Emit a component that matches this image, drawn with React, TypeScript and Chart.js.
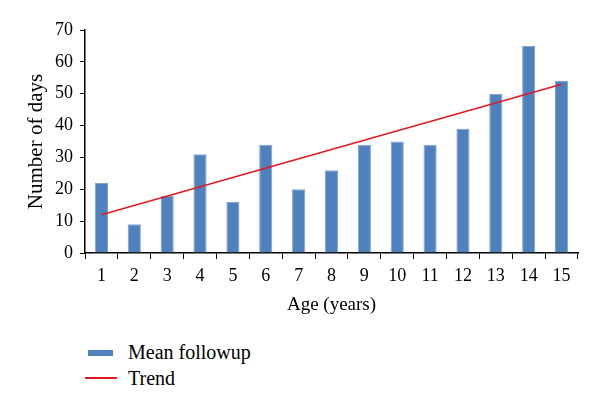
import React, { useEffect, useRef } from "react";
import { Chart, registerables } from "chart.js";

Chart.register(...registerables);

const ages = ["1", "2", "3", "4", "5", "6", "7", "8", "9", "10", "11", "12", "13", "14", "15"];
const meanFollowup = [22, 9, 18, 31, 16, 34, 20, 26, 34, 35, 34, 39, 50, 65, 54];
const trend = [12, null, null, null, null, null, null, null, null, null, null, null, null, null, 53];
const yTicks = [0, 10, 20, 30, 40, 50, 60, 70];

const FONT = "'Liberation Serif', 'Times New Roman', serif";
const BAR = "#4F81BD";
const RED = "#E0191E";

export default function App() {
  const ref = useRef<HTMLCanvasElement | null>(null);
  useEffect(() => {
    if (!ref.current) return;
    const chart = new Chart(ref.current, {
      type: "bar",
      data: {
        labels: ages,
        datasets: [
          {
            type: "line",
            label: "Trend",
            data: trend as any,
            borderColor: RED,
            borderWidth: 1.5,
            pointRadius: 0,
            spanGaps: true,
            fill: false,
            order: 0,
          } as any,
          {
            type: "bar",
            label: "Mean followup",
            data: meanFollowup,
            backgroundColor: BAR,
            borderColor: "#7FA3D3",
            borderWidth: 1,
            barPercentage: 0.4,
            categoryPercentage: 1,
            order: 1,
          },
        ],
      },
      options: {
        responsive: false,
        animation: false,
        layout: { padding: { top: 30, right: 22, left: 0, bottom: 0 } },
        plugins: { legend: { display: false }, tooltip: { enabled: false } },
        scales: {
          x: {
            offset: true,
            grid: { offset: true, drawOnChartArea: false, color: "#000", tickLength: 6 },
            border: { color: "#000", width: 1.5 },
            ticks: { color: "#000", font: { family: FONT, size: 18 }, padding: 6, maxRotation: 0 },
            title: { display: true, text: "Age (years)", color: "#000", font: { family: FONT, size: 19 }, padding: { top: 2 } },
            afterFit: (s: any) => { s.height = 67; },
          },
          y: {
            min: 0,
            max: 70,
            afterBuildTicks: (s: any) => { s.ticks = yTicks.map((v) => ({ value: v })); },
            grid: { drawOnChartArea: false, color: "#000", tickLength: 5 },
            border: { color: "#000", width: 1.5 },
            ticks: { color: "#000", font: { family: FONT, size: 18 }, padding: 7 },
            title: { display: true, text: "Number of days", color: "#000", font: { family: FONT, size: 21 }, padding: { top: 24, bottom: 0 } },
            afterFit: (s: any) => { s.width = 85; },
          },
        },
      },
    });
    return () => chart.destroy();
  }, []);

  const legendText: React.CSSProperties = { fontFamily: FONT, fontSize: 20, color: "#000", position: "absolute", left: 128, lineHeight: "22px" };
  return (
    <div style={{ position: "fixed", left: 0, top: 0, width: 600, height: 409, background: "#fff" }}>
      <canvas ref={ref} width={600} height={320} style={{ display: "block" }} />
      <div style={{ position: "absolute", left: 88, top: 350, width: 25, height: 6, background: BAR }} />
      <div style={{ ...legendText, top: 341 }}>Mean followup</div>
      <div style={{ position: "absolute", left: 85, top: 377, width: 32, height: 1.5, background: RED }} />
      <div style={{ ...legendText, top: 367 }}>Trend</div>
    </div>
  );
}
